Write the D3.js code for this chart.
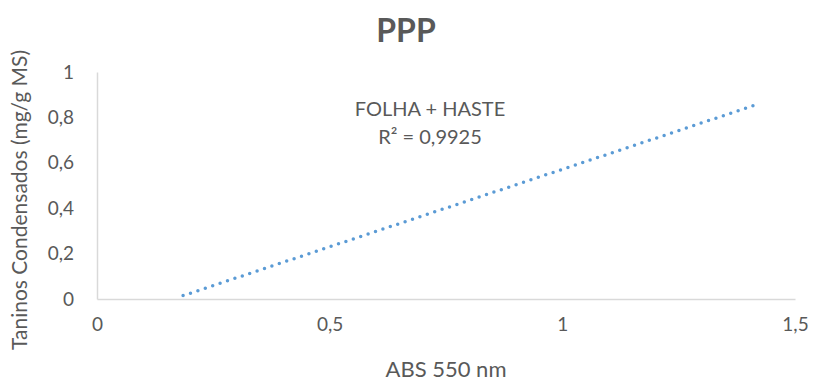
<!DOCTYPE html>
<html>
<head>
<meta charset="utf-8">
<script src="https://cdn.jsdelivr.net/npm/d3@7"></script>
<style>
  body { margin: 0; background: #fff; }
  text { font-family: Lato, "Open Sans", sans-serif; fill: #595959; }
</style>
</head>
<body>
<div id="chart"></div>
<script>
var svgWidth = 814;
var svgHeight = 381;

var margin = { top: 72, right: 19, bottom: 82, left: 97 };
var width = svgWidth - margin.left - margin.right;
var height = svgHeight - margin.top - margin.bottom;

// data
var xTicks = [0, 0.5, 1, 1.5];
var yTicks = [0, 0.2, 0.4, 0.6, 0.8, 1];
var trendX = [0.185, 1.417];   // linear trendline, start / end
var trendY = [0.015, 0.856];
var seriesName = "FOLHA + HASTE";
var rSquared = "R² = 0,9925";

var fmt = function(d) { return String(d).replace(".", ","); };

var svg = d3.select("#chart")
  .append("svg")
  .attr("width", svgWidth)
  .attr("height", svgHeight);

var chartGroup = svg.append("g")
  .attr("transform", `translate(${margin.left}, ${margin.top})`);

var xScale = d3.scaleLinear().domain([0, 1.5]).range([0, width]);
var yScale = d3.scaleLinear().domain([0, 1]).range([height, 0]);

// axes
var bottomAxis = d3.axisBottom(xScale).tickValues(xTicks).tickSize(0).tickPadding(19).tickFormat(fmt);
var leftAxis = d3.axisLeft(yScale).tickValues(yTicks).tickSize(0).tickPadding(23).tickFormat(fmt);

var xAxis = chartGroup.append("g")
  .attr("transform", `translate(0, ${height})`)
  .call(bottomAxis);

var yAxis = chartGroup.append("g")
  .call(leftAxis);

[xAxis, yAxis].forEach(function(a) {
  a.select(".domain").attr("stroke", "#d9d9d9").attr("stroke-width", 1.5);
  a.selectAll("text").style("font-size", "19px").attr("fill", "#595959");
});

// trendline
var line = d3.line()
  .x(d => xScale(d[0]))
  .y(d => yScale(d[1]));

chartGroup.append("path")
  .datum(trendX.map((x, i) => [x, trendY[i]]))
  .attr("d", line)
  .attr("fill", "none")
  .attr("stroke", "#5b9bd5")
  .attr("stroke-width", 3.5)
  .attr("stroke-linecap", "round")
  .attr("stroke-dasharray", "0,7.8");

// title
svg.append("text")
  .attr("x", 406)
  .attr("y", 42)
  .attr("text-anchor", "middle")
  .style("font-size", "32px")
  .style("font-weight", "bold")
  .text("PPP");

// trendline label
svg.append("text")
  .attr("x", 430)
  .attr("y", 116)
  .attr("text-anchor", "middle")
  .style("font-size", "20px")
  .text(seriesName);

svg.append("text")
  .attr("x", 430)
  .attr("y", 144)
  .attr("text-anchor", "middle")
  .style("font-size", "20px")
  .text(rSquared);

// axis titles
svg.append("text")
  .attr("x", 446)
  .attr("y", 377)
  .attr("text-anchor", "middle")
  .style("font-size", "22px")
  .text("ABS 550 nm");

svg.append("text")
  .attr("transform", "translate(27, 200) rotate(-90)")
  .attr("text-anchor", "middle")
  .style("font-size", "21px")
  .text("Taninos Condensados (mg/g MS)");
</script>
</body>
</html>
